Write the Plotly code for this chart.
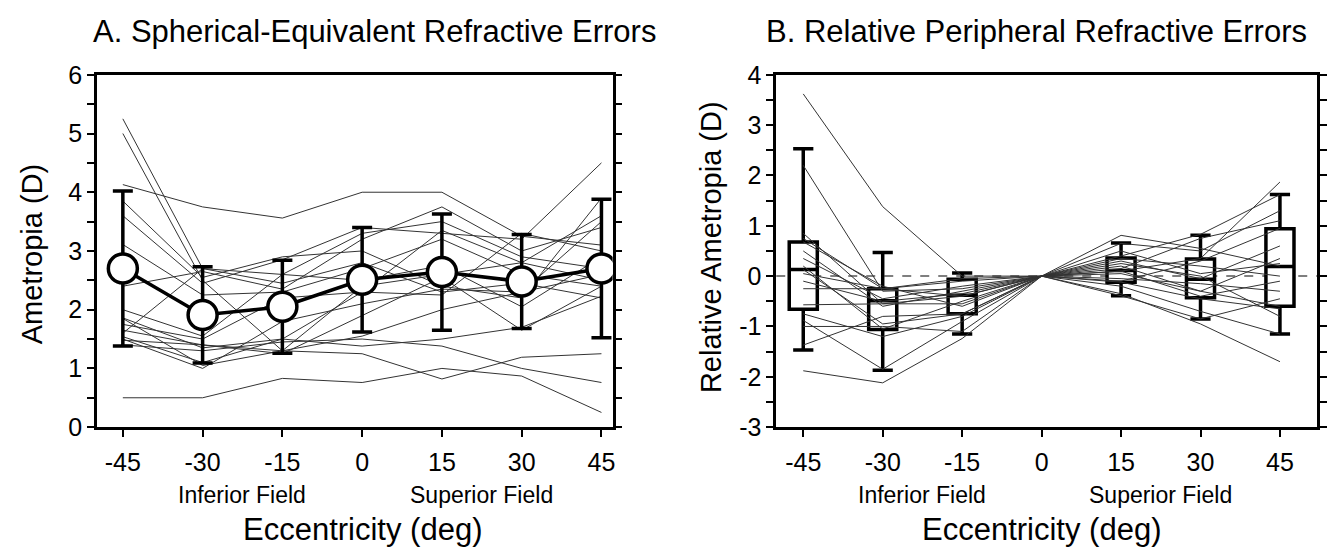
import plotly.graph_objects as go

# ---------------- data ----------------
ecc = [-45, -30, -15, 0, 15, 30, 45]
ecc_box = [-45, -30, -15, 15, 30, 45]
tick_labels = ["-45", "-30", "-15", "0", "15", "30", "45"]
se_ticks = [0, 1, 2, 3, 4, 5, 6]
rel_ticks = [-3, -2, -1, 0, 1, 2, 3, 4]

# Panel A: spherical-equivalent refraction (D)
se_mean = [2.70, 1.91, 2.05, 2.51, 2.64, 2.48, 2.70]
se_sd = [1.32, 0.82, 0.79, 0.89, 0.99, 0.80, 1.18]
se_subjects = [
    [5.25, 2.70, 2.60, 3.30, 3.50, 2.90, 2.70],
    [5.00, 2.50, 1.30, 2.40, 2.60, 2.80, 3.60],
    [4.13, 3.75, 3.56, 4.00, 4.00, 3.25, 3.10],
    [3.85, 2.55, 2.90, 3.00, 2.40, 2.20, 3.90],
    [3.60, 2.45, 2.85, 3.40, 3.30, 3.20, 4.50],
    [3.11, 2.25, 2.30, 2.70, 3.20, 2.60, 2.40],
    [2.40, 2.65, 2.35, 3.20, 3.75, 3.00, 3.40],
    [1.86, 1.35, 1.50, 2.30, 2.25, 3.30, 3.00],
    [1.75, 1.50, 2.20, 2.30, 3.35, 2.80, 2.50],
    [1.65, 1.40, 1.30, 1.55, 2.00, 2.30, 2.60],
    [1.54, 1.10, 1.50, 1.38, 1.50, 1.70, 2.23],
    [1.50, 1.00, 1.80, 2.10, 2.35, 2.30, 3.50],
    [1.48, 1.40, 1.25, 1.90, 2.55, 1.65, 2.40],
    [1.85, 1.05, 1.30, 1.25, 0.82, 1.19, 1.25],
    [1.40, 1.30, 1.45, 1.50, 1.38, 1.00, 0.76],
    [0.50, 0.50, 0.83, 0.76, 1.00, 0.87, 0.25],
    [2.00, 1.55, 2.60, 2.50, 2.75, 2.05, 2.90],
    [1.60, 2.70, 2.45, 2.80, 2.30, 2.45, 2.20],
]

# Panel B: relative peripheral refraction (D), box statistics
rel_q1 = [-0.66, -1.06, -0.75, -0.12, -0.43, -0.60]
rel_median = [0.13, -0.49, -0.38, 0.11, -0.06, 0.19]
rel_q3 = [0.68, -0.25, -0.06, 0.36, 0.34, 0.94]
rel_p10 = [-1.47, -1.87, -1.15, -0.39, -0.85, -1.15]
rel_p90 = [2.53, 0.47, 0.06, 0.66, 0.81, 1.62]
rel_subjects = [
    [3.62, 1.38, 0.00, 0, 0.20, -0.30, -0.60],
    [2.20, -0.30, -0.25, 0, 0.10, 0.35, 1.87],
    [0.85, -0.55, -0.40, 0, 0.81, 0.55, 0.20],
    [0.75, -0.25, -0.05, 0, 0.40, 0.83, 1.62],
    [0.68, -0.20, -0.60, 0, -0.35, -0.95, -1.70],
    [0.50, -0.60, -0.30, 0, 0.65, 0.50, 1.30],
    [0.35, -0.45, -0.20, 0, 0.30, -0.05, 0.60],
    [0.20, -1.05, -0.50, 0, 0.10, -0.40, -0.10],
    [0.13, -0.95, -0.75, 0, 0.25, 0.00, -0.80],
    [0.05, -0.25, -0.10, 0, -0.10, 0.30, 0.95],
    [-0.10, -0.50, -0.35, 0, 0.35, 0.20, 0.00],
    [-0.25, -0.25, -0.40, 0, -0.12, -0.45, -0.65],
    [-0.57, -0.55, -0.55, 0, 0.15, 0.75, 1.10],
    [-0.75, -1.20, -0.80, 0, -0.20, -0.70, -1.15],
    [-0.88, -1.85, -0.90, 0, 0.05, -0.30, 0.35],
    [-1.00, -1.00, -1.10, 0, -0.39, -0.85, -0.45],
    [-1.37, -0.80, -0.75, 0, 0.50, 0.05, 0.25],
    [-1.88, -2.12, -1.24, 0, -0.05, -0.15, -0.30],
]

FONT = "Liberation Sans, Arial, sans-serif"
W, H = 1333, 557

fig = go.Figure()

# Panel A
for s in se_subjects:
    fig.add_trace(go.Scatter(x=ecc, y=s, mode="lines", line=dict(color="#333333", width=1),
                             xaxis="x", yaxis="y", hoverinfo="skip", showlegend=False))
fig.add_trace(go.Scatter(
    x=ecc, y=se_mean, mode="lines+markers",
    line=dict(color="black", width=3.5),
    marker=dict(size=29, color="white", line=dict(color="black", width=3.5)),
    error_y=dict(type="data", array=se_sd, color="black", thickness=3.5, width=10),
    xaxis="x", yaxis="y", showlegend=False))

# Panel B
for s in rel_subjects:
    fig.add_trace(go.Scatter(x=ecc, y=s, mode="lines", line=dict(color="#333333", width=1),
                             xaxis="x2", yaxis="y2", hoverinfo="skip", showlegend=False))
fig.add_trace(go.Box(
    x=ecc_box, q1=rel_q1, median=rel_median, q3=rel_q3,
    lowerfence=rel_p10, upperfence=rel_p90,
    width=5.3, whiskerwidth=0.72, fillcolor="white",
    line=dict(color="black", width=3.5), boxpoints=False,
    xaxis="x2", yaxis="y2", showlegend=False))

ydom = [1 - 435 / H, 1 - 64 / H]
common_x = dict(tickvals=ecc, ticktext=tick_labels, ticks="outside", ticklen=7, tickwidth=2,
                tickcolor="black", showline=True, linewidth=2.5, linecolor="black", mirror=True,
                showgrid=False, zeroline=False, ticklabelstandoff=4,
                tickfont=dict(family=FONT, size=25, color="black"))
common_y = dict(ticks="outside", ticklen=7, tickwidth=2, tickcolor="black",
                showline=True, linewidth=2.5, linecolor="black", mirror="ticks",
                showgrid=False, zeroline=False, domain=ydom,
                minor=dict(dtick=0.5, ticks="outside", ticklen=7, tickwidth=2, tickcolor="black",
                           showgrid=False),
                tickfont=dict(family=FONT, size=25, color="black"))

fig.update_layout(
    width=W, height=H, margin=dict(l=0, r=0, t=0, b=0),
    paper_bgcolor="white", plot_bgcolor="white", showlegend=False,
    xaxis=dict(domain=[97 / W, 614 / W], range=[-49.9, 47.1], anchor="y", **common_x),
    yaxis=dict(range=[0, 6], anchor="x", tickvals=se_ticks,
               ticktext=[str(v) for v in se_ticks], **common_y),
    xaxis2=dict(domain=[778 / W, 1320 / W], range=[-50.1, 52.0], anchor="y2", **common_x),
    yaxis2=dict(range=[-3, 4], anchor="x2", tickvals=rel_ticks,
                ticktext=[str(v) for v in rel_ticks], **common_y),
    shapes=[dict(type="line", xref="x2 domain", x0=0, x1=1, yref="y2", y0=0, y1=0,
                 line=dict(color="#555555", width=1.5, dash="dash"), layer="below")],
)

def ann(text, x, y, size, xref="paper", angle=0):
    fig.add_annotation(text=text, x=x, y=y, xref=xref, yref="paper", showarrow=False,
                       xanchor="center", yanchor="middle", textangle=angle,
                       font=dict(family=FONT, size=size, color="black"))

ann("A. Spherical-Equivalent Refractive Errors", 375 / W, 1 - 18 / H, 31)
ann("B. Relative Peripheral Refractive Errors", 1039 / W, 1 - 18 / H, 31)
ann("Ametropia (D)", 32 / W, 1 - 252 / H, 29, angle=-90)
ann("Relative Ametropia (D)", 712 / W, 1 - 245 / H, 29, angle=-90)
ann("Eccentricity (deg)", 0, 1 - 543 / H, 31, xref="x")
ann("Eccentricity (deg)", 0, 1 - 543 / H, 31, xref="x2")
ann("Inferior Field", -22.5, 1 - 506 / H, 23, xref="x")
ann("Superior Field", 22.5, 1 - 506 / H, 23, xref="x")
ann("Inferior Field", -22.5, 1 - 506 / H, 23, xref="x2")
ann("Superior Field", 22.5, 1 - 506 / H, 23, xref="x2")

fig.write_html("out.html")
